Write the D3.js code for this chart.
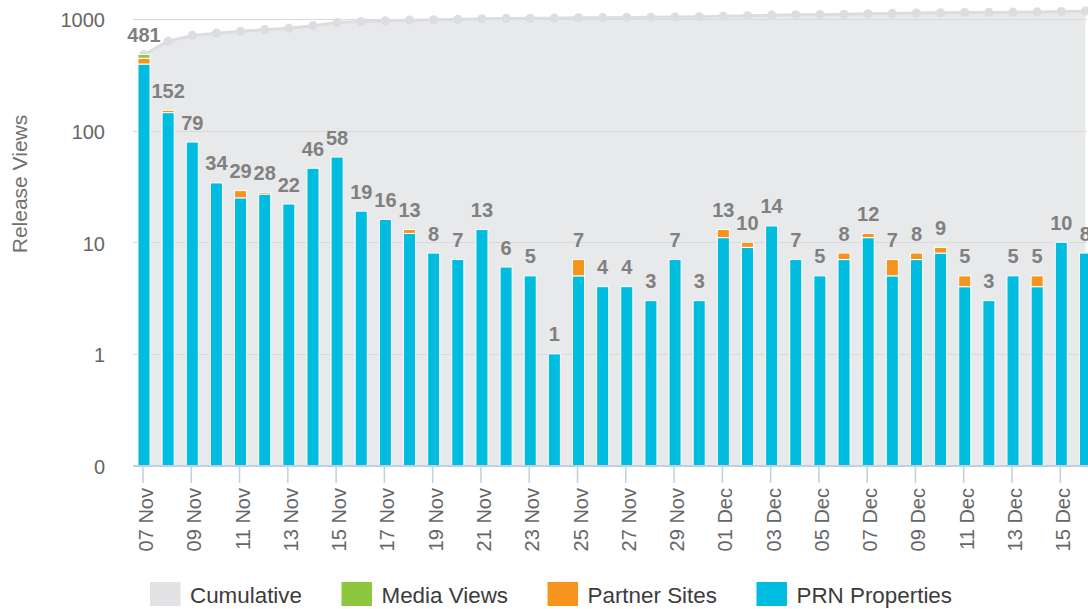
<!DOCTYPE html>
<html>
<head>
<meta charset="utf-8">
<script src="https://cdn.jsdelivr.net/npm/d3@7"></script>
<style>
  html, body { margin: 0; padding: 0; background: #fff; }
  svg { display: block; font-family: "Liberation Sans", Arial, Helvetica, sans-serif; }
</style>
</head>
<body>
<svg id="chart" width="1088" height="609"></svg>
<script>
// Daily release views, 07 Nov – 16 Dec
const dates = [
  "07 Nov","08 Nov","09 Nov","10 Nov","11 Nov","12 Nov","13 Nov","14 Nov","15 Nov","16 Nov",
  "17 Nov","18 Nov","19 Nov","20 Nov","21 Nov","22 Nov","23 Nov","24 Nov","25 Nov","26 Nov",
  "27 Nov","28 Nov","29 Nov","30 Nov","01 Dec","02 Dec","03 Dec","04 Dec","05 Dec","06 Dec",
  "07 Dec","08 Dec","09 Dec","10 Dec","11 Dec","12 Dec","13 Dec","14 Dec","15 Dec","16 Dec"
];
const prnProperties = [395,145,79,34,25,27,22,46,58,19,16,12,8,7,13,6,5,1,5,4,4,3,7,3,11,9,14,7,5,7,11,5,7,8,4,3,5,4,10,8];
const partnerSites  = [50,7,0,0,4,1,0,0,0,0,0,1,0,0,0,0,0,0,2,0,0,0,0,0,2,1,0,0,0,1,1,2,1,1,1,0,0,1,0,0];
const mediaViews    = [36,0,0,0,0,0,0,0,0,0,0,0,0,0,0,0,0,0,0,0,0,0,0,0,0,0,0,0,0,0,0,0,0,0,0,0,0,0,0,0];
const cumulative    = [481,633,712,746,775,803,825,871,929,948,964,977,985,992,1005,1011,1016,1017,1024,1028,
                       1032,1035,1042,1045,1058,1068,1082,1089,1094,1102,1114,1121,1129,1138,1143,1146,1151,1156,1166,1174];
const yTickValues = [0, 1, 10, 100, 1000];

const seriesNames = ["Cumulative", "Media Views", "Partner Sites", "PRN Properties"];
const colors = {
  cumulative: "#e8e9eb",
  cumulativeLine: "#dcdde0",
  media: "#8dc63f",
  partner: "#f7941d",
  prn: "#00bde0"
};

const svg = d3.select("#chart");
const plotLeft = 133, plotRight = 1088, baseY = 465.5, topY = 19;

const rows = dates.map((d, i) => ({
  date: d, prn: prnProperties[i], partner: partnerSites[i], media: mediaViews[i],
  total: prnProperties[i] + partnerSites[i] + mediaViews[i], cum: cumulative[i]
}));

const x = d3.scaleBand().domain(dates).range([131.93, 1097.5]).paddingInner(0.5).paddingOuter(0.25);
const cx = d => x(d) + x.bandwidth() / 2;

// log axis where the zero line sits one decade below 1
const yLog = d3.scaleLinear().domain([-1, 3]).range([baseY, topY]);
const y = v => yLog(v > 0 ? Math.log10(v) : -1);

// cumulative area
const area = d3.area().x(d => cx(d.date)).y0(baseY).y1(d => y(d.cum));
svg.append("path").datum(rows).attr("d", area).attr("fill", colors.cumulative);

// grid lines
svg.append("g").selectAll("line").data(yTickValues.filter(v => v > 0)).join("line")
  .attr("x1", plotLeft).attr("x2", 1087)
  .attr("y1", d => Math.round(y(d)) + 0.5).attr("y2", d => Math.round(y(d)) + 0.5)
  .attr("stroke", "#d9d9da").attr("stroke-width", 1);

// cumulative line and markers
const line = d3.line().x(d => cx(d.date)).y(d => y(d.cum));
svg.append("path").datum(rows).attr("d", line).attr("fill", "none")
  .attr("stroke", colors.cumulativeLine).attr("stroke-width", 3);
svg.append("g").selectAll("circle").data(rows).join("circle")
  .attr("cx", d => cx(d.date)).attr("cy", d => y(d.cum)).attr("r", 4.6)
  .attr("fill", colors.cumulativeLine);

// stacked bars
const stack = d3.stack().keys(["prn", "partner", "media"]);
const layers = stack(rows);
svg.append("g").selectAll("g").data(layers).join("g")
  .attr("fill", l => colors[l.key])
  .selectAll("rect").data(l => l.filter(s => s[1] > s[0])).join("rect")
  .attr("x", s => x(s.data.date))
  .attr("width", x.bandwidth())
  .attr("y", s => y(s[1]))
  .attr("height", s => y(s[0]) - y(s[1]))
  .attr("stroke", "#fff").attr("stroke-width", 1);

// x axis line
svg.append("line").attr("x1", plotLeft).attr("x2", plotRight)
  .attr("y1", 466).attr("y2", 466).attr("stroke", "#c0d0e0").attr("stroke-width", 2);

// x axis ticks and labels
const xAxis = d3.axisBottom(x).tickValues(dates.filter((d, i) => i % 2 === 0)).tickSize(16).tickFormat("");
const gx = svg.append("g").attr("transform", "translate(-1,467)").call(xAxis);
gx.select(".domain").remove();
gx.selectAll(".tick line").attr("stroke", "#c0d0e0").attr("stroke-width", 1.5);
gx.selectAll(".tick").append("text")
  .attr("transform", "translate(3,21) rotate(-90)")
  .attr("text-anchor", "end").attr("dy", "0.35em")
  .attr("fill", "#666").style("font-size", "20px")
  .text(d => d);

// y axis labels
const yAxis = d3.axisLeft(yLog).tickValues(yTickValues.map(v => v > 0 ? Math.log10(v) : -1))
  .tickSize(0).tickPadding(0)
  .tickFormat(t => t < 0 ? "0" : String(Math.round(Math.pow(10, t))));
const gy = svg.append("g").attr("transform", "translate(105,1.5)").call(yAxis);
gy.select(".domain").remove();
gy.selectAll(".tick text").attr("fill", "#666").style("font-size", "20px")
  .style("font-family", "'Liberation Sans', Arial, sans-serif");

// axis title
svg.append("text").attr("transform", "translate(26.5,184) rotate(-90)")
  .attr("text-anchor", "middle").attr("fill", "#707070").style("font-size", "21px")
  .text("Release Views");

// stack totals
svg.append("g").selectAll("text").data(rows).join("text")
  .attr("x", d => cx(d.date)).attr("y", d => y(d.total) - 12.5)
  .attr("text-anchor", "middle").attr("fill", "#808080")
  .style("font-size", "20px").style("font-weight", "bold")
  .text(d => d.total);

// legend
const legendColors = ["#e2e2e4", colors.media, colors.partner, colors.prn];
let lx = 150;
seriesNames.forEach((name, i) => {
  const g = svg.append("g");
  g.append("rect").attr("x", lx).attr("y", 582).attr("width", 30.5).attr("height", 24)
    .attr("fill", legendColors[i]);
  const t = g.append("text").attr("x", lx + 40).attr("y", 603)
    .attr("fill", "#3c3c3c").style("font-size", "22.4px").text(name);
  lx += 40 + t.node().getComputedTextLength() + 39.5;
});
</script>
</body>
</html>
